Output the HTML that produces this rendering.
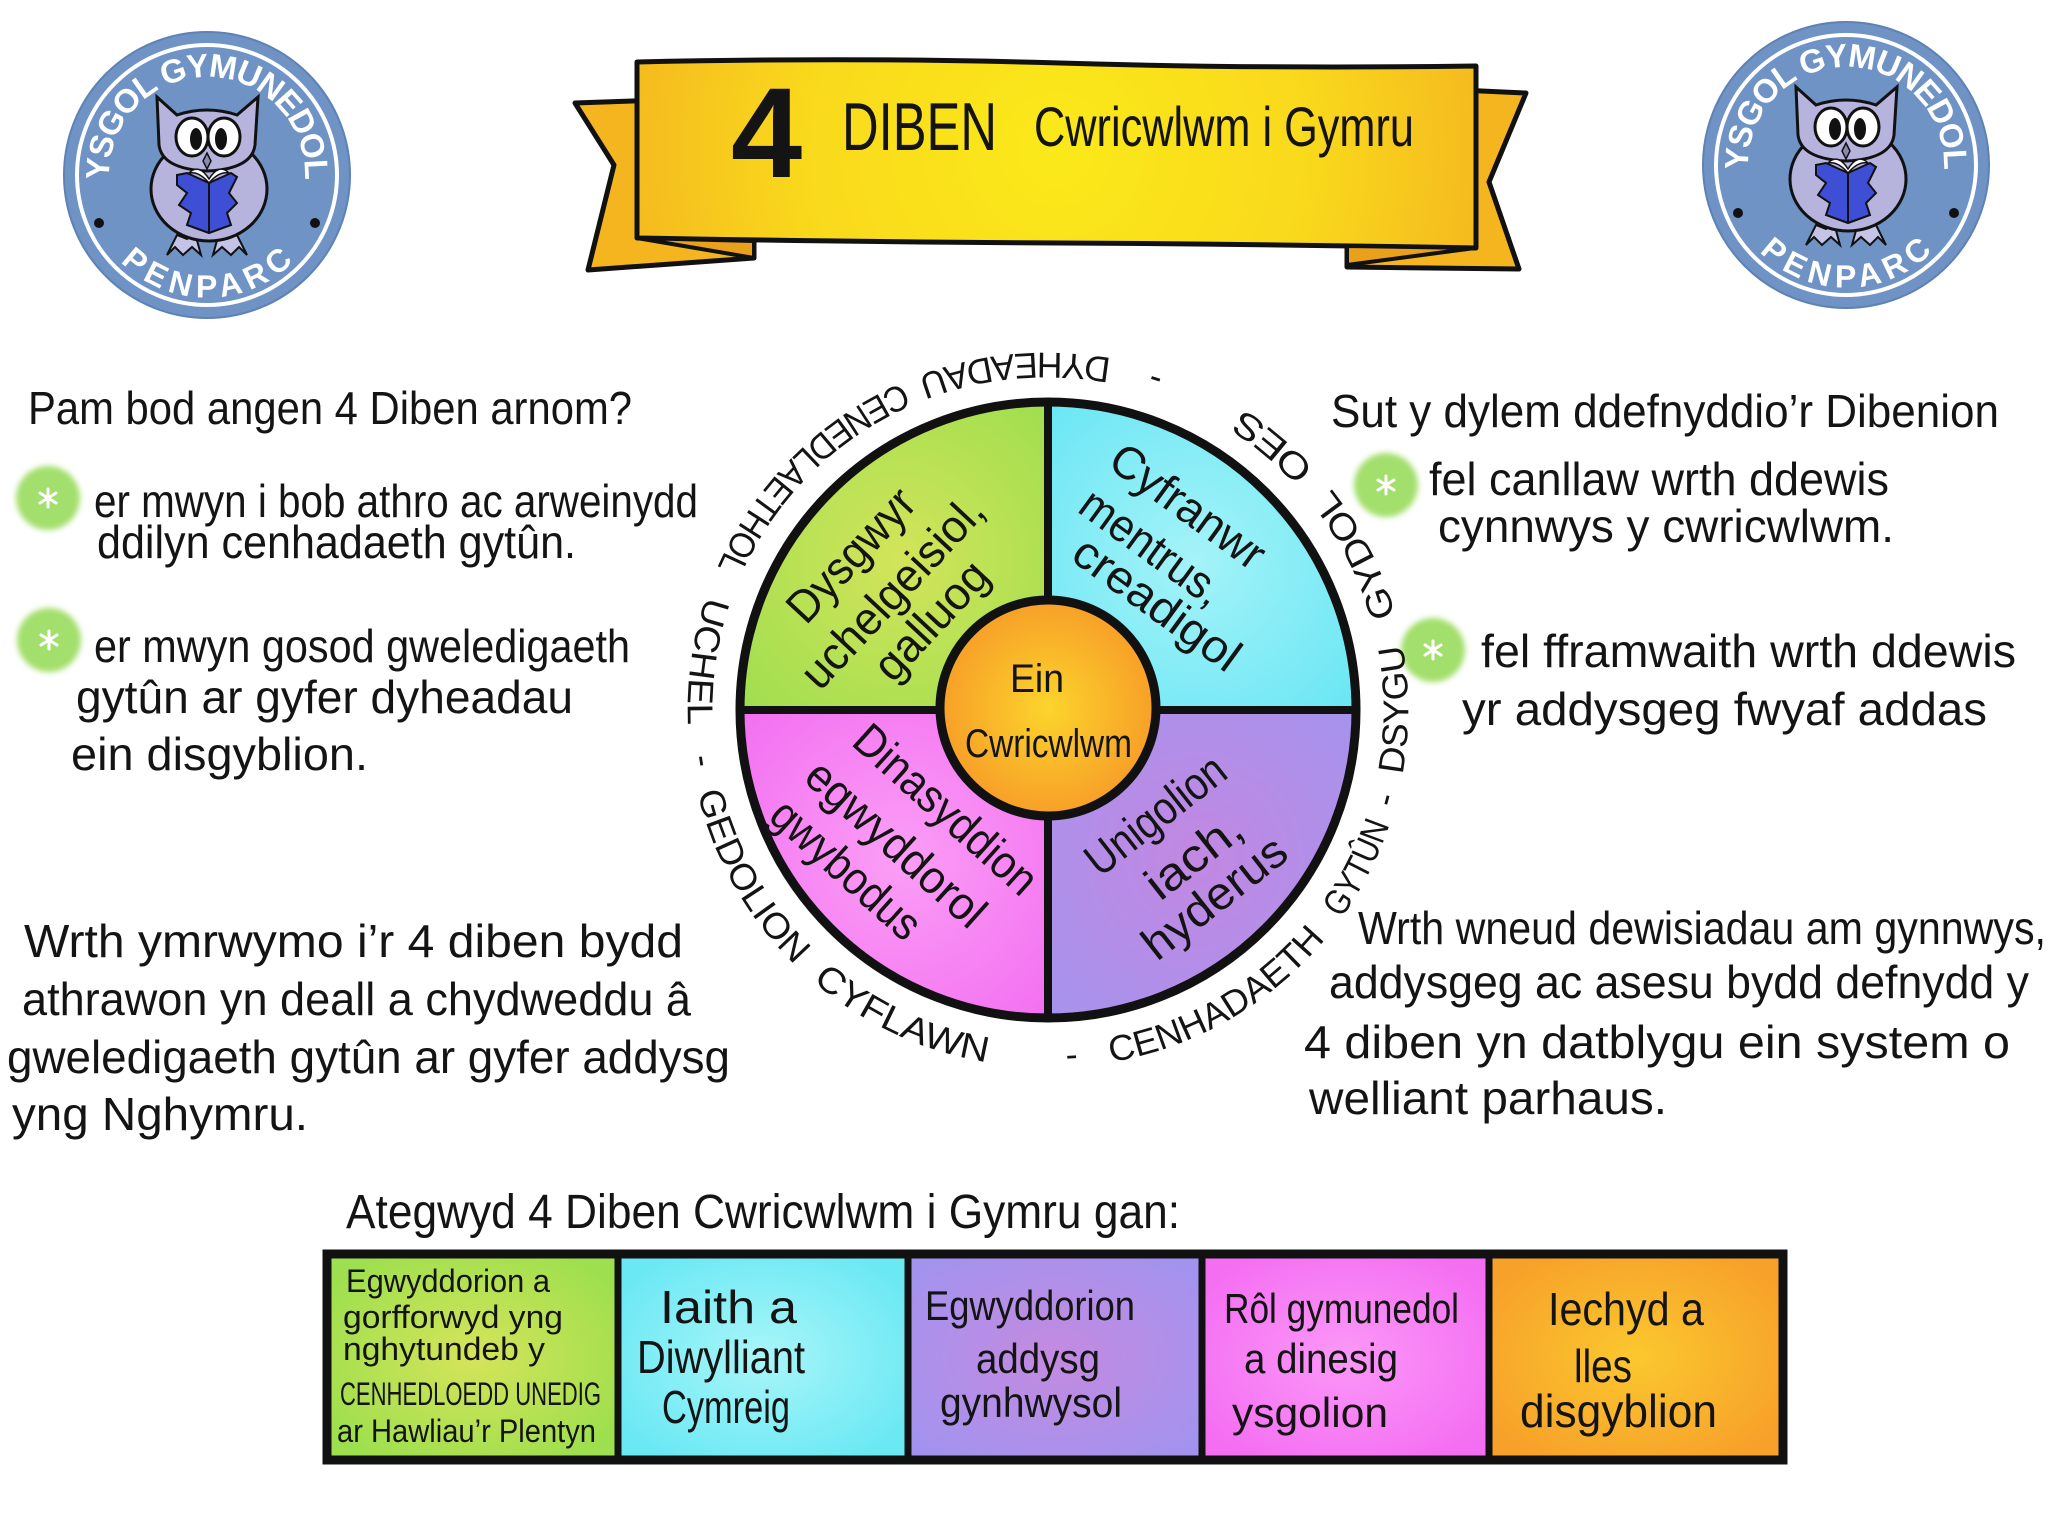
<!DOCTYPE html>
<html><head><meta charset="utf-8"><style>
html,body{margin:0;padding:0;background:#fff;}
svg{display:block;}
text{font-family:"Liberation Sans","DejaVu Sans",sans-serif;fill:#141414;}
</style></head><body>
<svg width="2048" height="1536" viewBox="0 0 2048 1536" xmlns="http://www.w3.org/2000/svg">
<defs>
<radialGradient id="gBan" gradientUnits="userSpaceOnUse" cx="1056" cy="150" r="460"><stop offset="0" stop-color="#fbe91a"/><stop offset="0.55" stop-color="#f9d91c"/><stop offset="1" stop-color="#f4b51f"/></radialGradient>
<radialGradient id="qG" gradientUnits="userSpaceOnUse" cx="900" cy="560" r="230"><stop offset="0" stop-color="#d3e45a"/><stop offset="1" stop-color="#9bde4e"/></radialGradient>
<radialGradient id="qC" gradientUnits="userSpaceOnUse" cx="1195" cy="560" r="230"><stop offset="0" stop-color="#a4f3f8"/><stop offset="1" stop-color="#66e5f4"/></radialGradient>
<radialGradient id="qP" gradientUnits="userSpaceOnUse" cx="900" cy="860" r="230"><stop offset="0" stop-color="#fb9ef6"/><stop offset="1" stop-color="#f26cf0"/></radialGradient>
<radialGradient id="qV" gradientUnits="userSpaceOnUse" cx="1195" cy="860" r="230"><stop offset="0" stop-color="#c288e2"/><stop offset="1" stop-color="#a394ee"/></radialGradient>
<radialGradient id="qO" gradientUnits="userSpaceOnUse" cx="1048" cy="708" r="110"><stop offset="0" stop-color="#fcd42c"/><stop offset="1" stop-color="#f79e28"/></radialGradient>
<radialGradient id="bG" cx="0.5" cy="0.5" r="0.6"><stop offset="0" stop-color="#d6e45a"/><stop offset="1" stop-color="#9ddf4e"/></radialGradient>
<radialGradient id="bC" cx="0.5" cy="0.5" r="0.6"><stop offset="0" stop-color="#a8f6f8"/><stop offset="1" stop-color="#6ae8f4"/></radialGradient>
<radialGradient id="bV" cx="0.5" cy="0.5" r="0.6"><stop offset="0" stop-color="#c48ae0"/><stop offset="1" stop-color="#a493ee"/></radialGradient>
<radialGradient id="bP" cx="0.5" cy="0.5" r="0.6"><stop offset="0" stop-color="#fb98f7"/><stop offset="1" stop-color="#f46ef2"/></radialGradient>
<radialGradient id="bO" cx="0.5" cy="0.5" r="0.6"><stop offset="0" stop-color="#fbc82e"/><stop offset="1" stop-color="#f7a02a"/></radialGradient>
<clipPath id="wheelClip"><circle cx="1048" cy="710" r="308"/></clipPath>
<filter id="fz" x="-50%" y="-50%" width="200%" height="200%"><feGaussianBlur stdDeviation="3"/></filter>
<path id="ring" d="M 1029.4 1066.5 A 357 357 0 1 0 1066.6 353.5 A 357 357 0 1 0 1029.4 1066.5" fill="none"/>
<path id="lgTop" d="M -96.5 17 A 98 98 0 1 1 96.5 17" fill="none"/>
<path id="lgBot" d="M -106.1 61.3 A 122.5 122.5 0 0 0 106.1 61.3" fill="none"/>
</defs>

<rect width="2048" height="1536" fill="#fff"/>

<!-- LEFT LOGO -->
<g transform="translate(207,175)">
<circle r="143" fill="#6e93c4" stroke="#5d82b3" stroke-width="2"/>
<circle r="130" fill="none" stroke="#fff" stroke-width="4"/>
<text font-weight="bold" font-size="33" text-anchor="middle" style="fill:#fff"><textPath href="#lgTop" startOffset="50%" textLength="318" lengthAdjust="spacing">YSGOL GYMUNEDOL</textPath></text>
<text font-weight="bold" font-size="32" text-anchor="middle" style="fill:#fff"><textPath href="#lgBot" startOffset="50%" textLength="192" lengthAdjust="spacing">PENPARC</textPath></text>
<circle cx="-108" cy="48" r="5" fill="#111"/><circle cx="108" cy="48" r="5" fill="#111"/>
<path d="M -40 80 L -30 60 L -20 64 L -12 58 L -6 80 L -15 72 L -24 80 L -32 72 Z M 40 80 L 30 60 L 20 64 L 12 58 L 6 80 L 15 72 L 24 80 L 32 72 Z" fill="#c5c3e6" stroke="#111" stroke-width="2"/>
<ellipse cx="2" cy="14" rx="58" ry="52" fill="#b6b4dc" stroke="#111" stroke-width="3"/>
<path d="M -50 -78 L -30 -60 Q 0 -70 30 -60 L 51 -78 L 48 -30 Q 45 -6 0 -4 Q -45 -6 -48 -30 Z" fill="#b6b4dc" stroke="#111" stroke-width="3"/>
<ellipse cx="-15" cy="-38" rx="16" ry="19" fill="#fff" stroke="#111" stroke-width="3"/>
<ellipse cx="17" cy="-38" rx="16" ry="19" fill="#fff" stroke="#111" stroke-width="3"/>
<ellipse cx="-11" cy="-36" rx="6" ry="11" fill="#111"/><ellipse cx="14" cy="-36" rx="6" ry="11" fill="#111"/>
<path d="M 0 -22 L 4 -14 L 0 -6 L -4 -14 Z" fill="#8a88b0" stroke="#111" stroke-width="1.5"/>
<path d="M -30 0 L -20 -2 L 2 8 L 24 -2 L 30 2 L 22 18 L 30 28 L 20 38 L 24 50 L 2 58 L -20 50 L -16 38 L -28 30 L -20 18 L -30 10 Z" fill="#3e4fd6" stroke="#111" stroke-width="2"/>
<path d="M 2 8 L 2 58" stroke="#111" stroke-width="2"/>
<path d="M -18 -2 Q -8 -12 2 4 Q 12 -12 22 -2 Q 12 -4 2 8 Q -8 -4 -18 -2 Z" fill="#fff" stroke="#111" stroke-width="1.5"/>
</g>

<!-- RIGHT LOGO -->
<g transform="translate(1846,165)">
<circle r="143" fill="#6e93c4" stroke="#5d82b3" stroke-width="2"/>
<circle r="130" fill="none" stroke="#fff" stroke-width="4"/>
<text font-weight="bold" font-size="33" text-anchor="middle" style="fill:#fff"><textPath href="#lgTop" startOffset="50%" textLength="318" lengthAdjust="spacing">YSGOL GYMUNEDOL</textPath></text>
<text font-weight="bold" font-size="32" text-anchor="middle" style="fill:#fff"><textPath href="#lgBot" startOffset="50%" textLength="192" lengthAdjust="spacing">PENPARC</textPath></text>
<circle cx="-108" cy="48" r="5" fill="#111"/><circle cx="108" cy="48" r="5" fill="#111"/>
<path d="M -40 80 L -30 60 L -20 64 L -12 58 L -6 80 L -15 72 L -24 80 L -32 72 Z M 40 80 L 30 60 L 20 64 L 12 58 L 6 80 L 15 72 L 24 80 L 32 72 Z" fill="#c5c3e6" stroke="#111" stroke-width="2"/>
<ellipse cx="2" cy="14" rx="58" ry="52" fill="#b6b4dc" stroke="#111" stroke-width="3"/>
<path d="M -50 -78 L -30 -60 Q 0 -70 30 -60 L 51 -78 L 48 -30 Q 45 -6 0 -4 Q -45 -6 -48 -30 Z" fill="#b6b4dc" stroke="#111" stroke-width="3"/>
<ellipse cx="-15" cy="-38" rx="16" ry="19" fill="#fff" stroke="#111" stroke-width="3"/>
<ellipse cx="17" cy="-38" rx="16" ry="19" fill="#fff" stroke="#111" stroke-width="3"/>
<ellipse cx="-11" cy="-36" rx="6" ry="11" fill="#111"/><ellipse cx="14" cy="-36" rx="6" ry="11" fill="#111"/>
<path d="M 0 -22 L 4 -14 L 0 -6 L -4 -14 Z" fill="#8a88b0" stroke="#111" stroke-width="1.5"/>
<path d="M -30 0 L -20 -2 L 2 8 L 24 -2 L 30 2 L 22 18 L 30 28 L 20 38 L 24 50 L 2 58 L -20 50 L -16 38 L -28 30 L -20 18 L -30 10 Z" fill="#3e4fd6" stroke="#111" stroke-width="2"/>
<path d="M 2 8 L 2 58" stroke="#111" stroke-width="2"/>
<path d="M -18 -2 Q -8 -12 2 4 Q 12 -12 22 -2 Q 12 -4 2 8 Q -8 -4 -18 -2 Z" fill="#fff" stroke="#111" stroke-width="1.5"/>
</g>

<!-- BANNER -->
<polygon points="575,103 660,100 660,240 754,242 754,258 588,270 614,165" fill="#f5b51f" stroke="#111" stroke-width="5" stroke-linejoin="round"/>
<polygon points="1460,90 1526,93 1489,182 1519,269 1347,267 1347,246 1460,246" fill="#f5b51f" stroke="#111" stroke-width="5" stroke-linejoin="round"/>
<path d="M 637 62 Q 860 57 1060 63 T 1476 66 L 1476 248 Q 1260 244 1060 243 T 637 238 Z" fill="url(#gBan)" stroke="#111" stroke-width="5" stroke-linejoin="round"/>
<polygon points="637,238 754,241 754,258" fill="#e9a01b" stroke="#111" stroke-width="4" stroke-linejoin="round"/>
<polygon points="1347,246 1475,248 1347,265" fill="#e9a01b" stroke="#111" stroke-width="4" stroke-linejoin="round"/>
<text x="731" y="177" font-size="128" font-weight="bold">4</text>
<text x="842" y="150" font-size="68" textLength="155" lengthAdjust="spacingAndGlyphs">DIBEN</text>
<text x="1034" y="146" font-size="56" textLength="380" lengthAdjust="spacingAndGlyphs">Cwricwlwm i Gymru</text>

<!-- LEFT TEXT -->
<text x="28" y="424" font-size="46" textLength="604" lengthAdjust="spacingAndGlyphs">Pam bod angen 4 Diben arnom?</text>
<g filter="url(#fz)"><circle cx="48" cy="498" r="32" fill="#a3df6c"/></g>
<g stroke="#fff" stroke-width="3" stroke-linecap="round"><path d="M48 489 L48 507 M40 493 L56 503 M40 503 L56 493"/></g>
<text x="94" y="517" font-size="46" textLength="604" lengthAdjust="spacingAndGlyphs">er mwyn i bob athro ac arweinydd</text>
<text x="97" y="558" font-size="46" textLength="479" lengthAdjust="spacingAndGlyphs">ddilyn cenhadaeth gytûn.</text>
<g filter="url(#fz)"><circle cx="49" cy="640" r="32" fill="#a3df6c"/></g>
<g stroke="#fff" stroke-width="3" stroke-linecap="round"><path d="M49 631 L49 649 M41 635 L57 645 M41 645 L57 635"/></g>
<text x="94" y="662" font-size="46" textLength="536" lengthAdjust="spacingAndGlyphs">er mwyn gosod gweledigaeth</text>
<text x="76" y="713" font-size="46" textLength="497" lengthAdjust="spacingAndGlyphs">gytûn ar gyfer dyheadau</text>
<text x="71" y="770" font-size="46" textLength="297" lengthAdjust="spacingAndGlyphs">ein disgyblion.</text>

<text x="24" y="957" font-size="46" textLength="659" lengthAdjust="spacingAndGlyphs">Wrth ymrwymo i’r 4 diben bydd</text>
<text x="22" y="1015" font-size="46" textLength="669" lengthAdjust="spacingAndGlyphs">athrawon yn deall a chydweddu â</text>
<text x="7" y="1073" font-size="46" textLength="723" lengthAdjust="spacingAndGlyphs">gweledigaeth gytûn ar gyfer addysg</text>
<text x="12" y="1130" font-size="46" textLength="296" lengthAdjust="spacingAndGlyphs">yng Nghymru.</text>

<!-- RIGHT TEXT -->
<text x="1331" y="427" font-size="46" textLength="668" lengthAdjust="spacingAndGlyphs">Sut y dylem ddefnyddio’r Dibenion</text>
<g filter="url(#fz)"><circle cx="1386" cy="485" r="32" fill="#a3df6c"/></g>
<g stroke="#fff" stroke-width="3" stroke-linecap="round"><path d="M1386 476 L1386 494 M1378 480 L1394 490 M1378 490 L1394 480"/></g>
<text x="1429" y="495" font-size="46" textLength="460" lengthAdjust="spacingAndGlyphs">fel canllaw wrth ddewis</text>
<text x="1438" y="542" font-size="46" textLength="456" lengthAdjust="spacingAndGlyphs">cynnwys y cwricwlwm.</text>
<g filter="url(#fz)"><circle cx="1433" cy="650" r="32" fill="#a3df6c"/></g>
<g stroke="#fff" stroke-width="3" stroke-linecap="round"><path d="M1433 641 L1433 659 M1425 645 L1441 655 M1425 655 L1441 645"/></g>
<text x="1481" y="667" font-size="46" textLength="535" lengthAdjust="spacingAndGlyphs">fel fframwaith wrth ddewis</text>
<text x="1462" y="725" font-size="46" textLength="525" lengthAdjust="spacingAndGlyphs">yr addysgeg fwyaf addas</text>

<text x="1358" y="944" font-size="46" textLength="688" lengthAdjust="spacingAndGlyphs">Wrth wneud dewisiadau am gynnwys,</text>
<text x="1329" y="998" font-size="46" textLength="700" lengthAdjust="spacingAndGlyphs">addysgeg ac asesu bydd defnydd y</text>
<text x="1304" y="1058" font-size="46" textLength="706" lengthAdjust="spacingAndGlyphs">4 diben yn datblygu ein system o</text>
<text x="1309" y="1114" font-size="46" textLength="358" lengthAdjust="spacingAndGlyphs">welliant parhaus.</text>

<!-- WHEEL -->
<g clip-path="url(#wheelClip)">
<rect x="730" y="390" width="318" height="320" fill="url(#qG)"/>
<rect x="1048" y="390" width="320" height="320" fill="url(#qC)"/>
<rect x="730" y="710" width="318" height="320" fill="url(#qP)"/>
<rect x="1048" y="710" width="320" height="320" fill="url(#qV)"/>
</g>
<line x1="740" y1="710" x2="1356" y2="710" stroke="#111" stroke-width="8"/>
<line x1="1048" y1="402" x2="1048" y2="1018" stroke="#111" stroke-width="8"/>
<circle cx="1048" cy="710" r="308" fill="none" stroke="#111" stroke-width="9"/>
<circle cx="1048" cy="708" r="108" fill="url(#qO)" stroke="#111" stroke-width="9"/>
<text x="1010" y="692" font-size="40" textLength="54" lengthAdjust="spacingAndGlyphs">Ein</text>
<text x="965" y="757" font-size="40" textLength="167" lengthAdjust="spacingAndGlyphs">Cwricwlwm</text>

<g font-size="46">
<text transform="translate(806,626) rotate(-47)" textLength="165" lengthAdjust="spacingAndGlyphs">Dysgwyr</text>
<text transform="translate(820,692) rotate(-47)" textLength="245" lengthAdjust="spacingAndGlyphs">uchelgeisiol,</text>
<text transform="translate(893,684) rotate(-47)" textLength="145" lengthAdjust="spacingAndGlyphs">galluog</text>

<text transform="translate(1106,466) rotate(36)" textLength="180" lengthAdjust="spacingAndGlyphs">Cyfranwr</text>
<text transform="translate(1076,511) rotate(36)" textLength="165" lengthAdjust="spacingAndGlyphs">mentrus,</text>
<text transform="translate(1069,559) rotate(36)" textLength="195" lengthAdjust="spacingAndGlyphs">creadigol</text>

<text transform="translate(850,744) rotate(42)" textLength="230" lengthAdjust="spacingAndGlyphs">Dinasyddion</text>
<text transform="translate(802,780) rotate(42)" textLength="225" lengthAdjust="spacingAndGlyphs">egwyddorol</text>
<text transform="translate(767,819) rotate(42)" textLength="185" lengthAdjust="spacingAndGlyphs">gwybodus</text>

<text transform="translate(1100,878) rotate(-38)" textLength="165" lengthAdjust="spacingAndGlyphs">Unigolion</text>
<text transform="translate(1160,902) rotate(-38)" textLength="110" lengthAdjust="spacingAndGlyphs">iach,</text>
<text transform="translate(1157,962) rotate(-38)" textLength="170" lengthAdjust="spacingAndGlyphs">hyderus</text>
</g>

<!-- RING TEXT -->
<g font-size="36" text-anchor="middle">
<text><textPath href="#ring" startOffset="43">-</textPath></text>
<text><textPath href="#ring" startOffset="208" textLength="252" lengthAdjust="spacingAndGlyphs">CENHADAETH</textPath></text>
<text><textPath href="#ring" startOffset="413" textLength="106" lengthAdjust="spacingAndGlyphs">GYTÛN</textPath></text>
<text><textPath href="#ring" startOffset="489">-</textPath></text>
<text><textPath href="#ring" startOffset="583" textLength="131" lengthAdjust="spacingAndGlyphs">DSYGU</textPath></text>
<text><textPath href="#ring" startOffset="750" textLength="143" lengthAdjust="spacingAndGlyphs">GYDOL</textPath></text>
<text><textPath href="#ring" startOffset="894" textLength="93" lengthAdjust="spacingAndGlyphs">OES</textPath></text>
<text><textPath href="#ring" startOffset="1034">-</textPath></text>
<text><textPath href="#ring" startOffset="1181" textLength="197" lengthAdjust="spacingAndGlyphs">DYHEADAU</textPath></text>
<text><textPath href="#ring" startOffset="1430" textLength="267" lengthAdjust="spacingAndGlyphs">CENEDLAETHOL</textPath></text>
<text><textPath href="#ring" startOffset="1660" textLength="131" lengthAdjust="spacingAndGlyphs">UCHEL</textPath></text>
<text><textPath href="#ring" startOffset="1763">-</textPath></text>
<text><textPath href="#ring" startOffset="1894" textLength="200" lengthAdjust="spacingAndGlyphs">GEDOLION</textPath></text>
<text><textPath href="#ring" startOffset="2115" textLength="194" lengthAdjust="spacingAndGlyphs">CYFLAWN</textPath></text>
</g>

<!-- BOTTOM -->
<text x="346" y="1228" font-size="48" textLength="834" lengthAdjust="spacingAndGlyphs">Ategwyd 4 Diben Cwricwlwm i Gymru gan:</text>

<rect x="327" y="1254" width="291" height="206" fill="url(#bG)"/>
<rect x="618" y="1254" width="290" height="206" fill="url(#bC)"/>
<rect x="908" y="1254" width="294" height="206" fill="url(#bV)"/>
<rect x="1202" y="1254" width="287" height="206" fill="url(#bP)"/>
<rect x="1489" y="1254" width="294" height="206" fill="url(#bO)"/>
<rect x="327" y="1254" width="1456" height="206" fill="none" stroke="#111" stroke-width="9"/>
<g stroke="#111" stroke-width="7">
<line x1="618" y1="1254" x2="618" y2="1460"/>
<line x1="908" y1="1254" x2="908" y2="1460"/>
<line x1="1202" y1="1254" x2="1202" y2="1460"/>
<line x1="1489" y1="1254" x2="1489" y2="1460"/>
</g>

<text x="346" y="1292" font-size="32" textLength="204" lengthAdjust="spacingAndGlyphs">Egwyddorion a</text>
<text x="343" y="1328" font-size="32" textLength="220" lengthAdjust="spacingAndGlyphs">gorfforwyd yng</text>
<text x="343" y="1360" font-size="32" textLength="202" lengthAdjust="spacingAndGlyphs">nghytundeb y</text>
<text x="340" y="1405" font-size="32" textLength="261" lengthAdjust="spacingAndGlyphs">CENHEDLOEDD UNEDIG</text>
<text x="337" y="1442" font-size="32" textLength="259" lengthAdjust="spacingAndGlyphs">ar Hawliau’r Plentyn</text>

<text x="660" y="1323" font-size="46" textLength="137" lengthAdjust="spacingAndGlyphs">Iaith a</text>
<text x="637" y="1373" font-size="46" textLength="168" lengthAdjust="spacingAndGlyphs">Diwylliant</text>
<text x="662" y="1423" font-size="46" textLength="128" lengthAdjust="spacingAndGlyphs">Cymreig</text>

<text x="925" y="1320" font-size="42" textLength="210" lengthAdjust="spacingAndGlyphs">Egwyddorion</text>
<text x="976" y="1373" font-size="42" textLength="124" lengthAdjust="spacingAndGlyphs">addysg</text>
<text x="940" y="1417" font-size="42" textLength="182" lengthAdjust="spacingAndGlyphs">gynhwysol</text>

<text x="1224" y="1323" font-size="42" textLength="235" lengthAdjust="spacingAndGlyphs">Rôl gymunedol</text>
<text x="1244" y="1373" font-size="42" textLength="154" lengthAdjust="spacingAndGlyphs">a dinesig</text>
<text x="1232" y="1427" font-size="42" textLength="156" lengthAdjust="spacingAndGlyphs">ysgolion</text>

<text x="1548" y="1325" font-size="46" textLength="156" lengthAdjust="spacingAndGlyphs">Iechyd a</text>
<text x="1574" y="1382" font-size="46" textLength="58" lengthAdjust="spacingAndGlyphs">lles</text>
<text x="1520" y="1427" font-size="46" textLength="197" lengthAdjust="spacingAndGlyphs">disgyblion</text>
</svg>
</body></html>
